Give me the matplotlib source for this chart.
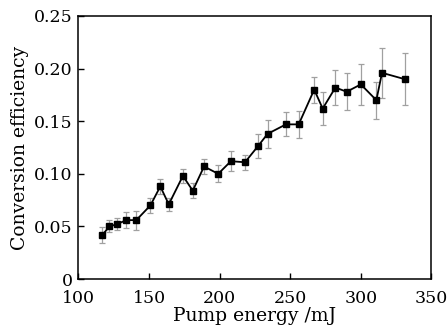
import matplotlib
matplotlib.use("Agg")
import matplotlib.pyplot as plt

# Pump energy (mJ), conversion efficiency and error half-widths
energy = [117, 122, 127, 134, 141, 151, 158, 164, 174, 181, 189, 199,
          208, 218, 227, 234, 247, 256, 267, 273, 282, 290, 300, 311, 315, 331]
efficiency = [0.042, 0.050, 0.052, 0.056, 0.056, 0.070, 0.088, 0.071, 0.098,
              0.084, 0.107, 0.100, 0.112, 0.111, 0.126, 0.138, 0.147, 0.147,
              0.180, 0.162, 0.182, 0.178, 0.185, 0.170, 0.196, 0.190]
error = [0.0073, 0.0057, 0.0057, 0.0075, 0.009, 0.0073, 0.007, 0.006, 0.007,
         0.007, 0.0068, 0.008, 0.0097, 0.007, 0.0114, 0.013, 0.0114, 0.013,
         0.0124, 0.016, 0.0165, 0.0177, 0.0195, 0.0177, 0.024, 0.025]

plt.rcParams['font.family'] = ['DejaVu Serif']
plt.rcParams['mathtext.fontset'] = 'dejavuserif'

fig = plt.figure(figsize=(4.48, 3.33), dpi=100)
ax = fig.add_axes([0.175, 0.162, 0.788, 0.790])

ax.errorbar(energy, efficiency, yerr=error, fmt='none', ecolor='#a0a0a0',
            elinewidth=0.9, capsize=2.5, capthick=0.9, zorder=1)
ax.plot(energy, efficiency, color='black', linewidth=1.3, marker='s',
        markersize=5, zorder=2)

ax.set_xlim(100, 350)
ax.set_ylim(0, 0.25)
ax.set_xticks([100, 150, 200, 250, 300, 350])
ax.set_yticks([0, 0.05, 0.10, 0.15, 0.20, 0.25])
ax.set_yticklabels(['0', '0.05', '0.10', '0.15', '0.20', '0.25'])
ax.tick_params(direction='in', length=4, width=1, labelsize=12.5)
ax.tick_params(axis='x', pad=8)
ax.tick_params(axis='y', pad=4)
for s in ax.spines.values():
    s.set_linewidth(1.1)

ax.set_xlabel('Pump energy /mJ', fontsize=13.5, labelpad=0)
ax.set_ylabel('Conversion efficiency', fontsize=13.5, labelpad=4)

fig.savefig('out.png', dpi=100)
